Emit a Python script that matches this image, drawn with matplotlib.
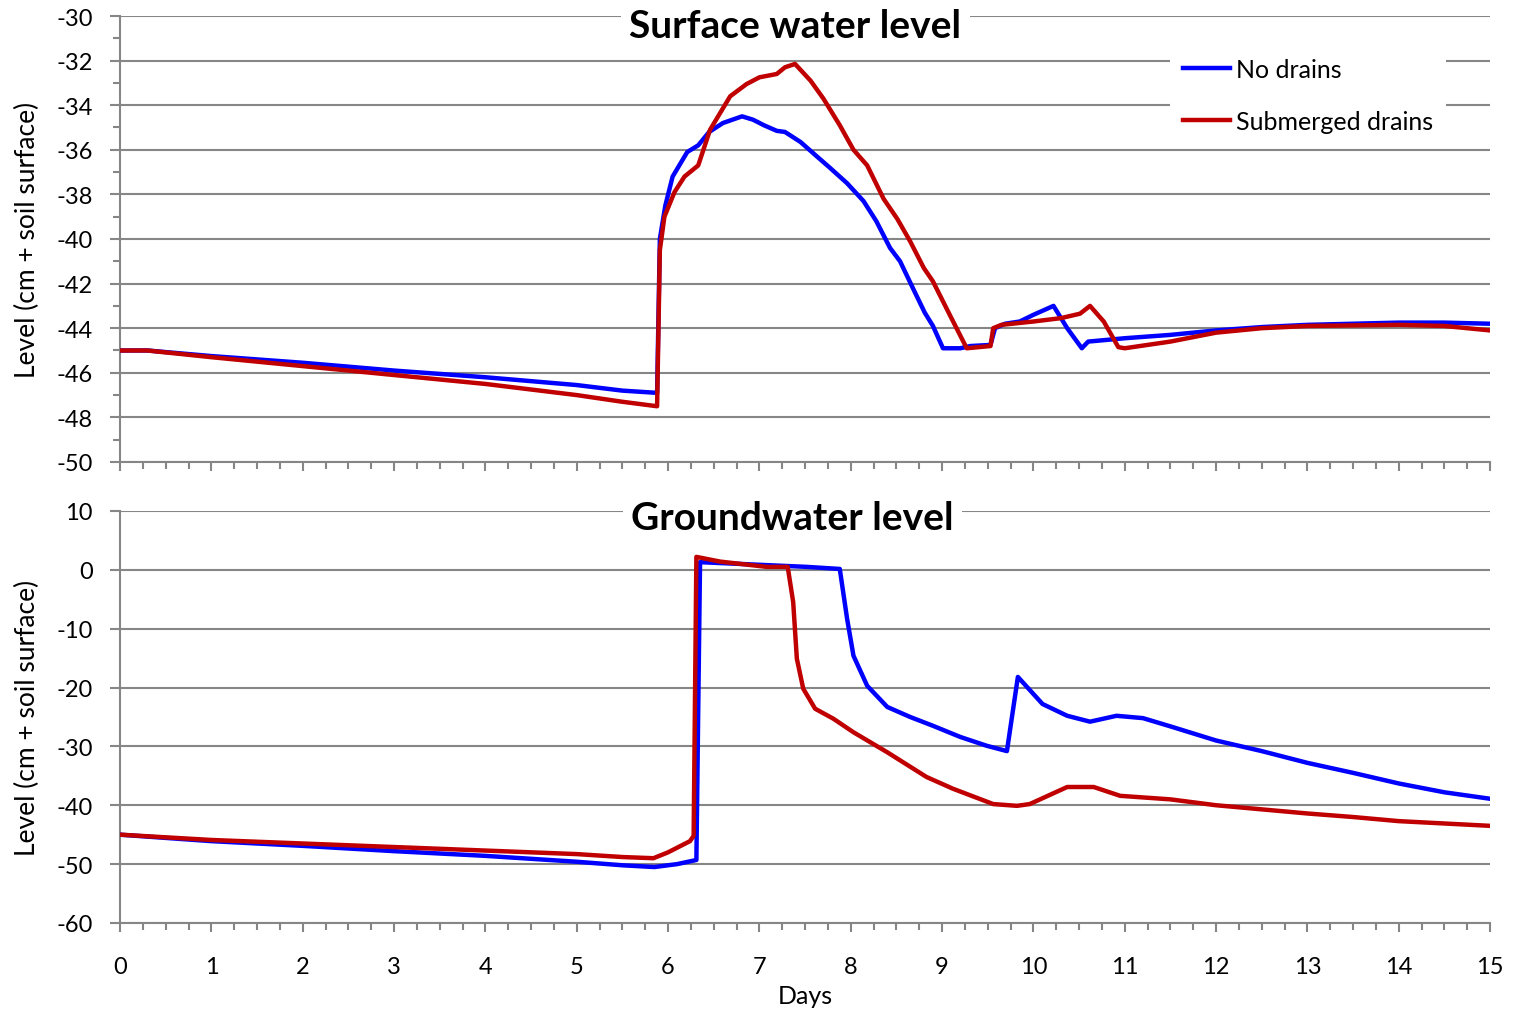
import matplotlib
matplotlib.use("Agg")
import matplotlib.pyplot as plt
from matplotlib.ticker import MultipleLocator

plt.rcParams['font.family'] = ['Lato', 'DejaVu Sans']
plt.rcParams['axes.unicode_minus'] = False

# Surface water level, no drains
sw_days_nd = [0, 0.3, 1, 2, 3, 4, 5, 5.5, 5.88, 5.91, 5.97, 6.05, 6.21, 6.33,
              6.45, 6.6, 6.81, 6.93, 7.05, 7.19, 7.28, 7.45, 7.63, 7.77,
              7.96, 8.14, 8.28, 8.43, 8.54, 8.68, 8.81, 8.90, 9.01, 9.2,
              9.31, 9.53, 9.58, 9.69, 9.85, 10.0, 10.22, 10.37, 10.53, 10.6,
              10.87, 11, 11.5, 12, 12.5, 13, 13.5, 14, 14.5, 15]
sw_nd = [-45.0, -45.0, -45.25, -45.55, -45.9, -46.2, -46.55, -46.8, -46.9,
         -40.0, -38.5, -37.2, -36.1, -35.8,
         -35.2, -34.8, -34.5, -34.65, -34.9, -35.15, -35.2, -35.65, -36.3, -36.8,
         -37.5, -38.3, -39.2, -40.4, -41.0, -42.2, -43.3, -43.9, -44.9, -44.9,
         -44.8, -44.75, -44.0, -43.8, -43.7, -43.4, -43.0, -44.0, -44.9, -44.6,
         -44.5, -44.45, -44.3, -44.1, -43.95, -43.85, -43.8, -43.75, -43.75, -43.8]

# Surface water level, submerged drains
sw_days_sd = [0, 0.3, 1, 2, 3, 4, 5, 5.5, 5.88, 5.91,
              5.96, 6.07, 6.18, 6.33, 6.46, 6.68, 6.86, 7.0, 7.19, 7.28,
              7.39, 7.56, 7.70, 7.88, 8.03, 8.18, 8.36, 8.51, 8.65, 8.80,
              8.90, 9.09, 9.27, 9.53, 9.56, 9.65, 10.0, 10.3, 10.51, 10.62,
              10.77, 10.93, 11.0, 11.5, 12, 12.5, 13, 14, 14.5, 15]
sw_sd = [-45.0, -45.0, -45.3, -45.7, -46.1, -46.5, -47.0, -47.3, -47.5, -40.5,
         -39.0, -37.9, -37.2, -36.7, -35.1, -33.6, -33.05, -32.75, -32.6, -32.3,
         -32.15, -32.9, -33.7, -34.9, -36.0, -36.7, -38.2, -39.1, -40.1, -41.3,
         -41.9, -43.45, -44.9, -44.8, -44.0, -43.85, -43.7, -43.55, -43.35, -43.0,
         -43.7, -44.85, -44.9, -44.6, -44.2, -44.0, -43.9, -43.85, -43.9, -44.1]

# Groundwater level, no drains
gw_days_nd = [0, 1, 2, 3, 4, 5, 5.5, 5.85, 6.1, 6.31,
              6.35, 6.79, 7.52, 7.88, 7.96, 8.03, 8.18, 8.40, 8.65, 8.90,
              9.20, 9.49, 9.71, 9.83, 10.1, 10.37, 10.62, 10.91, 11.2, 11.5,
              12, 12.5, 13, 13.5, 14, 14.5, 15]
gw_nd = [-45.0, -46.1, -46.9, -47.8, -48.6, -49.6, -50.2, -50.5, -50.0, -49.3,
         1.3, 1.0, 0.5, 0.15, -8.3, -14.6, -19.7, -23.3, -25.0, -26.5,
         -28.4, -29.9, -30.8, -18.2, -22.8, -24.8, -25.8, -24.8, -25.2, -26.6,
         -29.0, -30.8, -32.8, -34.5, -36.3, -37.8, -38.9]

# Groundwater level, submerged drains
gw_days_sd = [0, 1, 2, 3, 4, 5, 5.5, 5.84, 6.0, 6.24,
              6.28, 6.31, 6.57, 7.08, 7.31, 7.37, 7.41, 7.48, 7.61, 7.81,
              8.03, 8.40, 8.83, 9.12, 9.56, 9.82, 9.96, 10.37, 10.66, 10.95,
              11.5, 12, 12.5, 13, 13.5, 14, 14.5, 15]
gw_sd = [-45.0, -45.9, -46.5, -47.1, -47.7, -48.3, -48.8, -49.0, -48.0, -46.1,
         -45.2, 2.2, 1.4, 0.5, 0.5, -5.5, -15.1, -20.2, -23.6, -25.3,
         -27.6, -31.0, -35.2, -37.2, -39.8, -40.1, -39.8, -36.9, -36.9, -38.4,
         -39.0, -40.0, -40.7, -41.4, -42.0, -42.7, -43.1, -43.5]

labels = ['No drains', 'Submerged drains']
colors = ['#0000FF', '#C00000']
gray = '#868686'

fig = plt.figure(figsize=(15.14, 10.12), dpi=100)
ax1 = fig.add_axes([0.0793, 0.5425, 0.9049, 0.4407])
ax2 = fig.add_axes([0.0793, 0.0870, 0.9049, 0.4071])

ax1.plot(sw_days_nd, sw_nd, color=colors[0], lw=3.2, label=labels[0], zorder=3)
ax1.plot(sw_days_sd, sw_sd, color=colors[1], lw=3.2, label=labels[1], zorder=3)
ax2.plot(gw_days_nd, gw_nd, color=colors[0], lw=3.2, zorder=3)
ax2.plot(gw_days_sd, gw_sd, color=colors[1], lw=3.2, zorder=3)

ax1.set_ylim(-50, -30)
ax1.yaxis.set_major_locator(MultipleLocator(2))
ax1.yaxis.set_minor_locator(MultipleLocator(1))
ax2.set_ylim(-60, 10)
ax2.yaxis.set_major_locator(MultipleLocator(10))

for ax in (ax1, ax2):
    ax.set_xlim(0, 15)
    ax.xaxis.set_major_locator(MultipleLocator(1))
    ax.xaxis.set_minor_locator(MultipleLocator(0.25))
    for s in ('top', 'right'):
        ax.spines[s].set_visible(False)
    for s in ('left', 'bottom'):
        ax.spines[s].set_color(gray)
        ax.spines[s].set_linewidth(1.5)
    ax.grid(axis='y', which='major', color=gray, lw=1.5, zorder=1)
    ax.tick_params(which='major', direction='out', length=7.5, width=1.5,
                   color=gray, labelsize=17, pad=12)
    ax.tick_params(which='minor', direction='out', length=5, width=1.5,
                   color=gray)
    ax.tick_params(axis='x', which='major', length=6.5, pad=17)
    ax.set_ylabel('Level (cm + soil surface)', fontsize=19, labelpad=12)

ax1.tick_params(axis='x', labelbottom=False)
ax2.set_xlabel('Days', fontsize=18, labelpad=5)

ax1.text(0.493, 0.978, 'Surface water level', transform=ax1.transAxes,
         ha='center', va='center', fontsize=28, fontweight='bold', zorder=5,
         bbox=dict(facecolor='white', edgecolor='none', pad=6))
ax2.text(0.491, 0.985, 'Groundwater level', transform=ax2.transAxes,
         ha='center', va='center', fontsize=28, fontweight='bold', zorder=5,
         bbox=dict(facecolor='white', edgecolor='none', pad=6))

leg = ax1.legend(loc='upper left', bbox_to_anchor=(0.761, 0.951), fontsize=18,
                 frameon=True, framealpha=1, facecolor='white', edgecolor='none',
                 fancybox=False, handlelength=1.9, handletextpad=0.25,
                 labelspacing=1.15, borderpad=0.5, borderaxespad=0.3)
leg.set_zorder(6)

fig.savefig('out.png', dpi=100)
